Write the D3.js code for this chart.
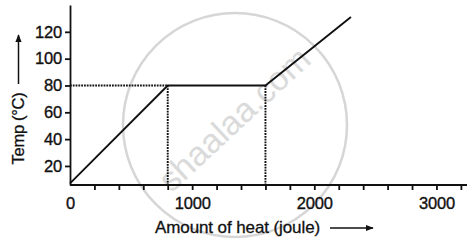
<!DOCTYPE html>
<html>
<head>
<meta charset="utf-8">
<script src="https://cdn.jsdelivr.net/npm/d3@7/dist/d3.min.js"></script>
<style>
  html, body { margin: 0; padding: 0; background: #fff; }
  svg { display: block; font-family: "Liberation Sans", Arial, sans-serif; }
</style>
</head>
<body>
<svg id="chart" width="470" height="250"></svg>
<script>
// ---- data ----
const heat = [0, 800, 1600, 2300];          // joule
const temp = [7, 80, 80, 131];              // °C
const guideHeat = [800, 1600];
const guideTemp = 80;
const yTicks = [20, 40, 60, 80, 100, 120];
const xTicks = d3.range(0, 3201, 200);
const xLabels = [0, 1000, 2000, 3000];
const xTitle = "Amount of heat (joule)";
const yTitle = "Temp (°C)";
const watermark = "shaalaa.com";

const svg = d3.select("#chart");
const x = d3.scaleLinear().domain([0, 3250]).range([70, 467]);
const y = d3.scaleLinear().domain([5.8, 140]).range([185, 5]);

const defs = svg.append("defs");
defs.append("marker").attr("id", "arr").attr("viewBox", "0 0 10 10")
  .attr("refX", 9).attr("refY", 5).attr("markerWidth", 8).attr("markerHeight", 8)
  .attr("markerUnits", "userSpaceOnUse").attr("orient", "auto")
  .append("path").attr("d", "M0,1 L10,5 L0,9 Z").attr("fill", "#111");

// watermark
const wm = svg.append("g");
wm.append("circle").attr("cx", 235).attr("cy", 125).attr("r", 112)
  .attr("fill", "none").attr("stroke", "#d6d6d6").attr("stroke-width", 2.5);
wm.append("text").attr("transform", "translate(236,121) rotate(-43)")
  .attr("text-anchor", "middle").attr("dominant-baseline", "middle")
  .attr("font-size", 34).attr("fill", "#dadada").text(watermark);

// axes
const gx = svg.append("g").attr("transform", `translate(0,${y.range()[0]})`)
  .call(d3.axisBottom(x).tickValues(xTicks).tickSize(5).tickSizeOuter(0).tickPadding(7)
    .tickFormat(d => xLabels.includes(d) ? d : ""));
gx.select(".domain").attr("d", `M${x(0)},0H${x.range()[1]}`);
gx.selectAll(".tick").filter(d => d === 0).select("line").remove();

const gy = svg.append("g").attr("transform", `translate(${x(0)},0)`)
  .call(d3.axisLeft(y).tickValues(yTicks).tickSize(5).tickSizeOuter(0).tickPadding(3));

[gx, gy].forEach(g => {
  g.selectAll("path, line").attr("stroke", "#111").attr("stroke-width", 1.8);
  g.selectAll("text").attr("font-size", 16.5).attr("fill", "#111")
    .attr("stroke", "#111").attr("stroke-width", 0.35).attr("letter-spacing", -0.2);
});

// guides (dotted)
const guides = svg.append("g").attr("stroke", "#111").attr("stroke-width", 1.9)
  .attr("stroke-dasharray", "1.8,1").attr("fill", "none");
guides.append("line").attr("x1", x(0)).attr("x2", x(guideHeat[0]))
  .attr("y1", y(guideTemp)).attr("y2", y(guideTemp));
guideHeat.forEach(h => {
  guides.append("line").attr("x1", x(h)).attr("x2", x(h))
    .attr("y1", y(guideTemp)).attr("y2", y.range()[0]);
});

// main line
const pts = heat.map((h, i) => [h, temp[i]]);
svg.append("path").datum(pts)
  .attr("d", d3.line().x(d => x(d[0])).y(d => y(d[1])))
  .attr("fill", "none").attr("stroke", "#111").attr("stroke-width", 1.9);

// titles
svg.append("text").attr("x", 155).attr("y", 233).attr("font-size", 17)
  .attr("letter-spacing", -0.1).attr("fill", "#111")
  .attr("stroke", "#111").attr("stroke-width", 0.3).text(xTitle);
svg.append("line").attr("x1", 330).attr("x2", 373).attr("y1", 228).attr("y2", 228)
  .attr("stroke", "#111").attr("stroke-width", 1.5).attr("marker-end", "url(#arr)");

svg.append("text").attr("transform", "translate(24,128.5) rotate(-90)")
  .attr("text-anchor", "middle").attr("font-size", 16.5)
  .attr("letter-spacing", -0.3).attr("fill", "#111")
  .attr("stroke", "#111").attr("stroke-width", 0.3).text(yTitle);
svg.append("line").attr("x1", 18.5).attr("x2", 18.5).attr("y1", 84).attr("y2", 35)
  .attr("stroke", "#111").attr("stroke-width", 1.5).attr("marker-end", "url(#arr)");
</script>
</body>
</html>
